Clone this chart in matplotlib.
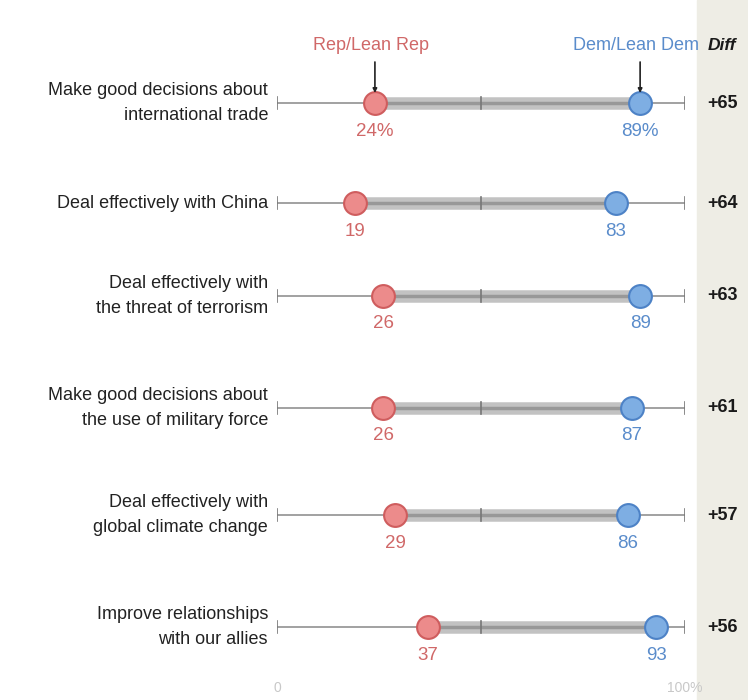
import matplotlib.pyplot as plt
from matplotlib import font_manager

# data
items = ['Make good decisions about\ninternational trade',
         'Deal effectively with China',
         'Deal effectively with\nthe threat of terrorism',
         'Make good decisions about\nthe use of military force',
         'Deal effectively with\nglobal climate change',
         'Improve relationships\nwith our allies']
rep = [24, 19, 26, 26, 29, 37]
dem = [89, 83, 89, 87, 86, 93]
diff = ['+65', '+64', '+63', '+61', '+57', '+56']

# layout (pixel rows)
row_y = [103, 203, 296, 408, 515, 627]

names = {f.name for f in font_manager.fontManager.ttflist}
narrow = 'Liberation Sans Narrow' if 'Liberation Sans Narrow' in names else 'Liberation Sans'
plt.rcParams['font.family'] = [narrow, 'DejaVu Sans']

red_fill, red_edge, red_text = '#ec8b8b', '#cf5d5e', '#d06868'
blue_fill, blue_edge, blue_text = '#7eaee3', '#4d82c6', '#5a8ccb'

fig = plt.figure(figsize=(7.48, 7.0), dpi=100)
ax = fig.add_axes([277 / 748, 0, 408 / 748, 1])
ax.set_xlim(0, 100)
ax.set_ylim(700, 0)
ax.axis('off')

px = 100 / 408  # data units per pixel in x

# diff panel background
fig.patches.append(plt.Rectangle((697 / 748, 0), 51 / 748, 1, transform=fig.transFigure,
                                 color='#eeede5', zorder=-5))

for i, y in enumerate(row_y):
    ax.plot([0, 100], [y, y], color='#9a9a9a', lw=1.3, zorder=1, solid_capstyle='butt')
    for t in (0, 50, 100):
        ax.plot([t, t], [y - 6, y + 6], color='#777777', lw=1.2, zorder=2.5)
    ax.plot([rep[i], dem[i]], [y, y], color='#c2c2c2', lw=9, zorder=2, solid_capstyle='butt')
    ax.plot([rep[i], dem[i]], [y, y], color='#989898', lw=2.5, zorder=2, solid_capstyle='butt')
    ax.scatter(rep[i], y, s=270, color=red_fill, edgecolor=red_edge, linewidth=1.5, zorder=3)
    ax.scatter(dem[i], y, s=270, color=blue_fill, edgecolor=blue_edge, linewidth=1.5, zorder=3)
    suffix = '%' if i == 0 else ''
    ax.text(rep[i], y + 28, f'{rep[i]}{suffix}', color=red_text, fontsize=13.5,
            ha='center', va='center')
    ax.text(dem[i], y + 28, f'{dem[i]}{suffix}', color=blue_text, fontsize=13.5,
            ha='center', va='center')
    ax.text(-9 * px, y, items[i], ha='right', va='center', fontsize=13,
            color='#222222', linespacing=1.55)
    ax.text(100 + 37 * px, y, diff[i], ha='center', va='center', fontsize=13,
            fontweight='bold', color='#1a1a1a', clip_on=False)

# headers
ax.text(rep[0] - 1, 45, 'Rep/Lean Rep', color=red_text, fontsize=13, ha='center', va='center')
ax.text(dem[0] - 1, 45, 'Dem/Lean Dem', color=blue_text, fontsize=13, ha='center', va='center')
ax.text(100 + 37 * px, 45, 'Diff', fontsize=12.5, fontweight='bold', style='italic',
        ha='center', va='center', color='#1a1a1a', clip_on=False)
for x in (rep[0], dem[0]):
    ax.annotate('', xy=(x, row_y[0] - 10), xytext=(x, 62),
                arrowprops=dict(arrowstyle='-|>', color='#222222', lw=1.2,
                                mutation_scale=6, shrinkA=0, shrinkB=0))

ax.text(0, 688, '0', color='#c8c8c8', fontsize=10, ha='center', va='center')
ax.text(100, 688, '100%', color='#c8c8c8', fontsize=10, ha='center', va='center')

fig.savefig('out.png', dpi=100)
